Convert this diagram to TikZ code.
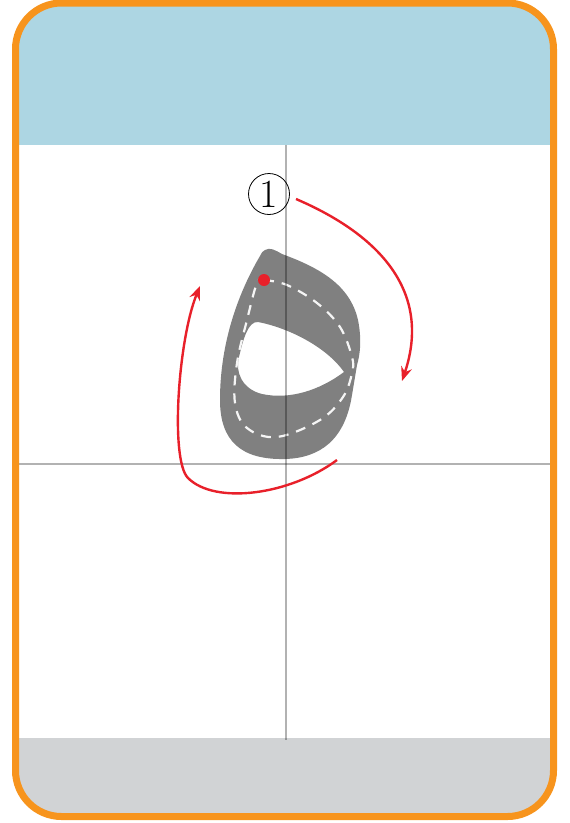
\documentclass[tikz,border=0pt]{standalone}
\usetikzlibrary{arrows.meta}
\definecolor{frameorange}{HTML}{F7941D}
\definecolor{headblue}{HTML}{ADD6E3}
\definecolor{footgray}{HTML}{D1D3D5}
\definecolor{glyphgray}{HTML}{808080}
\definecolor{arrowred}{HTML}{E8202A}
\tikzset{
  guide/.style={draw=black,opacity=0.3,line width=1.3pt},
  strokearrow/.style={draw=arrowred,line width=2.4pt,-{Stealth[length=14pt,width=11pt]}},
  centerdash/.style={draw=white!92!gray,line width=2.2pt,dash pattern=on 10pt off 8pt}
}
\begin{document}
\begin{tikzpicture}[x=1pt,y=-1pt]
\useasboundingbox (0,0) rectangle (570,823);
\begin{scope}
  \clip[rounded corners=46pt] (15.5,3) rectangle (553.5,816.5);
  \fill[white] (0,0) rectangle (570,823);
  \fill[headblue] (0,0) rectangle (570,145);
  \fill[footgray] (0,738) rectangle (570,823);
\end{scope}
% glyph
\fill[glyphgray,even odd rule]
  (265,250) .. controls (270,247) and (275,250) .. (282,254)
  .. controls (320,268) and (350,285) .. (358,320)
  .. controls (362,340) and (360,355) .. (357,365)
  -- (352,395)
  .. controls (345,440) and (320,458) .. (285,459)
  .. controls (240,460) and (220,440) .. (220,400)
  .. controls (220,340) and (240,290) .. (260,256)
  .. controls (262,252) and (263,251) .. (265,250) -- cycle
  (258,322) .. controls (285,327) and (325,345) .. (344,372)
  .. controls (320,390) and (290,400) .. (262,394)
  .. controls (242,389) and (235,372) .. (239,357)
  .. controls (243,340) and (248,321) .. (258,322) -- cycle;
\draw[centerdash] plot[smooth,tension=0.6] coordinates {(264,280) (287,285) (317,303) (340,327) (352,357) (352,373) (343,397) (320,420) (277,437) (247,428) (235,403) (237,363) (247,320) (257,283) (264,280)};
% guide lines
\draw[guide] (286,145) -- (286,740);
\draw[guide] (19,464) -- (550,464);
% frame
\draw[frameorange,line width=7pt,rounded corners=46pt] (15.5,3) rectangle (553.5,816.5);
% arrows
\coordinate (a1s) at (296,199);
\coordinate (a1e) at (402,381);
\coordinate (a2s) at (337,460);
\coordinate (a2m) at (188,478);
\coordinate (a2e) at (200,286);
\draw[strokearrow] (a1s) .. controls (380,235) and (432,292) .. (a1e);
\draw[strokearrow] (a2s) .. controls (290,495) and (215,505) .. (a2m)
  .. controls (170,460) and (178,340) .. (a2e);
% start dot
\fill[arrowred] (264,280) circle (6pt);
% step number
\node[circle,draw=black,line width=0.8pt,minimum size=41pt,inner sep=0pt,font=\fontsize{40}{40}\selectfont] (one) at (269,194) {1};
\end{tikzpicture}
\end{document}
